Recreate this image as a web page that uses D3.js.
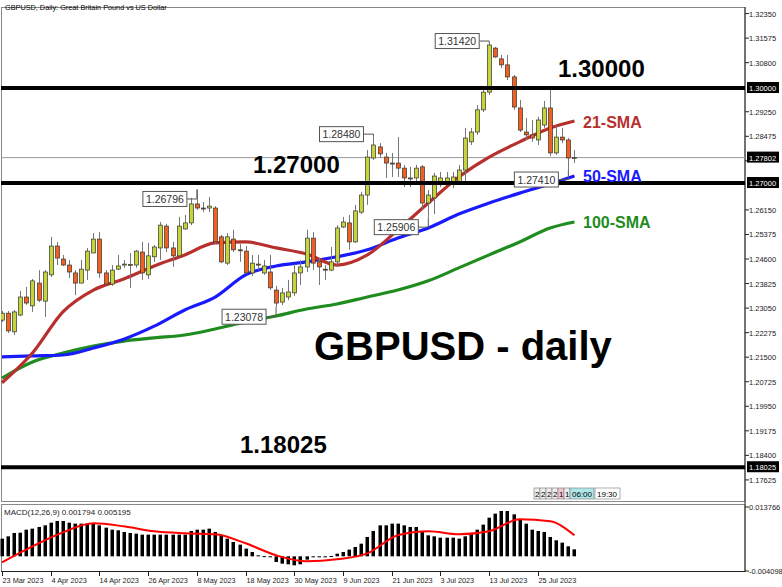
<!DOCTYPE html>
<html>
<head>
<meta charset="utf-8">
<script src="https://d3js.org/d3.v7.min.js"></script>
<style>
  body { margin: 0; background: #fff; }
  text { font-family: "Liberation Sans", Arial, sans-serif; }
</style>
</head>
<body>
<script>
const w = 782, h = 587;

// daily bars, 23 Mar 2023 .. 2 Aug 2023 (weekdays)
const open  = [1.2267,1.2289,1.2230,1.2283,1.2340,1.2312,1.2384,1.2327,1.2410,1.2501,1.2460,1.2441,1.2416,1.2384,1.2425,1.2479,1.2523,1.2416,1.2381,1.2428,
               1.2441,1.2441,1.2441,1.2482,1.2410,1.2467,1.2495,1.2564,1.2495,1.2470,1.2555,1.2574,1.2634,1.2621,1.2621,1.2621,1.2530,1.2447,1.2523,1.2489,
               1.2485,1.2416,1.2444,1.2416,1.2419,1.2362,1.2324,1.2340,1.2353,1.2416,1.2435,1.2526,1.2451,1.2428,1.2425,1.2451,1.2561,1.2574,1.2514,1.2608,
               1.2662,1.2779,1.2814,1.2782,1.2763,1.2763,1.2747,1.2716,1.2716,1.2751,1.2637,1.2653,1.2700,1.2703,1.2703,1.2703,1.2741,1.2830,1.2861,1.2931,
               1.2987,1.3126,1.3092,1.3073,1.3035,1.2937,1.2861,1.2852,1.2836,1.2883,1.2937,1.2795,1.2845,1.2836,1.2779];
const high  = [1.2296,1.2296,1.2299,1.2359,1.2372,1.2397,1.2425,1.2425,1.2530,1.2514,1.2473,1.2457,1.2425,1.2457,1.2495,1.2542,1.2545,1.2425,1.2441,1.2473,
               1.2457,1.2479,1.2489,1.2514,1.2511,1.2504,1.2577,1.2571,1.2514,1.2593,1.2599,1.2653,1.26796,1.2640,1.2656,1.2627,1.2536,1.2542,1.2552,1.2507,
               1.2501,1.2473,1.2473,1.2457,1.2473,1.2375,1.2369,1.2394,1.2444,1.2457,1.2552,1.2545,1.2463,1.2441,1.2498,1.2567,1.2593,1.2599,1.2631,1.2672,
               1.2804,1.2848,1.2826,1.2795,1.2795,1.2845,1.2757,1.2751,1.2757,1.2757,1.2678,1.2732,1.2735,1.2735,1.2735,1.2757,1.2874,1.2874,1.2946,1.3000,
               1.3142,1.3130,1.3104,1.3104,1.3041,1.2962,1.2905,1.2899,1.2909,1.2959,1.3000,1.2883,1.2874,1.2842,1.2804];
const low   = [1.2261,1.2226,1.2220,1.2280,1.2315,1.2293,1.2324,1.2277,1.2403,1.2441,1.2438,1.2400,1.2346,1.2384,1.2394,1.2479,1.2400,1.2378,1.2375,1.2425,
               1.2432,1.2369,1.2432,1.2394,1.2397,1.2451,1.2457,1.2482,1.2435,1.2467,1.2552,1.2567,1.2615,1.2608,1.2608,1.2507,1.2447,1.2441,1.2482,1.2451,
               1.2413,1.2406,1.2425,1.2410,1.2362,1.23078,1.2315,1.2330,1.2343,1.2378,1.2419,1.2425,1.2378,1.2394,1.2422,1.2438,1.2558,1.2489,1.2511,1.2602,
               1.2631,1.2773,1.2779,1.2716,1.2719,1.2719,1.2687,1.2687,1.2703,1.2615,1.25906,1.2602,1.2687,1.2694,1.2684,1.2694,1.2703,1.2820,1.2852,1.2924,
               1.2978,1.3095,1.3063,1.3025,1.2931,1.2861,1.2836,1.2830,1.2820,1.2874,1.2785,1.2789,1.2826,1.2741,1.2763];
const close = [1.2289,1.2233,1.2293,1.2340,1.2321,1.2391,1.2330,1.2419,1.2501,1.2463,1.2441,1.2419,1.2384,1.2428,1.2485,1.2523,1.2416,1.2381,1.2425,1.2438,
               1.2444,1.2443,1.2485,1.2416,1.2470,1.2498,1.2567,1.2495,1.2470,1.2564,1.2574,1.2634,1.2621,1.2619,1.2627,1.2514,1.2451,1.2530,1.2489,1.2487,
               1.2416,1.2447,1.2441,1.2438,1.2369,1.2321,1.2353,1.2356,1.2416,1.2435,1.2526,1.2447,1.2435,1.2425,1.2451,1.2558,1.2577,1.2514,1.2612,1.2662,
               1.2782,1.2820,1.2792,1.2763,1.2760,1.2747,1.2716,1.2714,1.2747,1.2637,1.2662,1.2722,1.2716,1.2716,1.2719,1.2741,1.2842,1.2861,1.2931,1.2987,
               1.3136,1.3098,1.3073,1.3035,1.2940,1.2867,1.2852,1.2842,1.2899,1.2937,1.2795,1.2845,1.2836,1.2779,1.27802];

// moving averages read every 5 bars
const maIdx  = [0,5,10,15,20,25,30,35,40,45,50,55,60,65,70,75,80,85,90,94];
const sma21  = [1.2069,1.2163,1.2293,1.2362,1.2397,1.2438,1.2473,1.2511,1.2514,1.2495,1.2476,1.2441,1.2473,1.2552,1.2637,1.2719,1.2782,1.2830,1.2874,1.2896];
const sma50  = [1.2151,1.2154,1.2157,1.2179,1.2207,1.2248,1.2299,1.2340,1.2410,1.2438,1.2451,1.2467,1.2489,1.2526,1.2558,1.2602,1.2637,1.2668,1.2697,1.2722];
const sma100 = [1.2084,1.2135,1.2163,1.2185,1.2201,1.2211,1.2220,1.2239,1.2261,1.2280,1.2302,1.2318,1.2340,1.2362,1.2391,1.2432,1.2473,1.2514,1.2558,1.2577];

// MACD histogram (x1e-3) and signal line (x1e-3)
const macdHist = [4.93,5.58,6.51,6.60,7.44,7.72,8.19,8.65,9.39,9.86,9.86,9.39,9.12,9.12,9.12,9.12,8.65,8.00,7.44,7.26,
                  6.79,6.51,6.33,6.05,6.05,6.05,6.05,6.05,6.05,6.05,6.05,7.07,7.44,7.44,7.72,6.79,5.86,4.93,4.00,3.26,
                  2.14,1.21,0.28,0.05,-0.2,-1.58,-2.05,-2.23,-2.51,-2.23,-0.93,-0.19,-0.1,-0.1,0.1,0.74,1.21,1.86,2.60,3.53,
                  5.40,7.07,8.65,8.65,9.12,9.12,8.65,8.19,8.19,7.07,5.86,5.58,5.21,5.21,5.21,4.93,5.58,6.51,7.44,8.84,
                  10.79,11.91,12.65,12.65,11.72,10.23,9.12,7.44,7.07,6.79,5.40,4.47,3.81,2.79,1.95];
const macdSignal = [-1.67,2.79,6.70,9.21,8.37,6.98,6.42,6.14,3.63,0.28,-1.40,-0.84,0.84,5.86,6.98,6.14,6.98,10.33,9.77,5.86];

const yTicks = [1.17625,1.18400,1.19175,1.19950,1.20725,1.21500,1.22275,1.23050,1.23825,1.24600,1.25375,1.26150,1.27700,1.28475,1.29250,1.30800,1.31575,1.32350];
const levels = [1.30000, 1.27000, 1.18025];
const lastPrice = 1.27802;
const dateLabels = ["23 Mar 2023","4 Apr 2023","14 Apr 2023","26 Apr 2023","8 May 2023","18 May 2023","30 May 2023","9 Jun 2023","21 Jun 2023","3 Jul 2023","13 Jul 2023","25 Jul 2023"];
const dateIdx = [0,8,16,24,32,40,48,56,64,72,80,88];
const marks = [
  {i: 80, p: 1.31420},
  {i: 61, p: 1.28480},
  {i: 32, p: 1.26796},
  {i: 45, p: 1.23078},
  {i: 70, p: 1.25906},
  {i: 93, p: 1.27410}
];

const axisX = 745, mainTop = 7, mainBot = 502, macdTop = 504, macdBot = 571;

let svg = d3.select("body").append("svg").attr("width", w).attr("height", h);

let x = d3.scaleLinear().domain([0, 94]).range([2, 2 + 94 * 6.09]);
let y = d3.scaleLinear().domain([1.17, 1.33]).range([499.7, -7]);
let ym = d3.scaleLinear().domain([-0.004098, 0.013766]).range([macdBot, 507]);

svg.append("clipPath").attr("id", "mc").append("rect")
  .attr("x", 1).attr("y", mainTop).attr("width", axisX - 1).attr("height", mainBot - mainTop);

// frames
svg.append("rect").attr("x", 1.5).attr("y", mainTop + 0.5).attr("width", axisX - 1.5).attr("height", mainBot - mainTop - 1)
  .attr("fill", "none").attr("stroke", "#888");
svg.append("rect").attr("x", 1.5).attr("y", macdTop + 0.5).attr("width", axisX - 1.5).attr("height", macdBot - macdTop)
  .attr("fill", "none").attr("stroke", "#888");
svg.append("line").attr("x1", axisX).attr("x2", axisX).attr("y1", mainTop).attr("y2", macdBot + 1).attr("stroke", "#222");
svg.append("line").attr("x1", 1).attr("x2", axisX).attr("y1", macdBot + 0.5).attr("y2", macdBot + 0.5).attr("stroke", "#222");

svg.append("text").attr("x", 5).attr("y", 10).attr("font-size", 7.3).text("GBPUSD, Daily:  Great Britain Pound vs US Dollar");

let g = svg.append("g").attr("clip-path", "url(#mc)");

// last price line
g.append("line").attr("x1", 0).attr("x2", axisX).attr("y1", y(lastPrice)).attr("y2", y(lastPrice))
  .attr("stroke", "#999").attr("stroke-width", 1);

// MAs
const maLine = arr => d3.line().x((d, k) => x(maIdx[k])).y(d => y(d)).curve(d3.curveMonotoneX)(arr);
[[sma100, "#1e8c1e"], [sma50, "#1a1aff"], [sma21, "#b7302d"]].forEach(([arr, col]) => {
  g.append("path").attr("d", maLine(arr)).attr("fill", "none").attr("stroke", col).attr("stroke-width", 3.2);
});

// candles
let idx = d3.range(open.length);
g.selectAll(".wick").data(idx).join("line")
  .attr("x1", i => Math.round(x(i)) + 0.5).attr("x2", i => Math.round(x(i)) + 0.5)
  .attr("y1", i => y(high[i])).attr("y2", i => y(low[i]))
  .attr("stroke", "#777").attr("stroke-width", 1);
g.selectAll(".body").data(idx).join("rect")
  .attr("x", i => Math.round(x(i)) - 1.5)
  .attr("y", i => y(Math.max(open[i], close[i])))
  .attr("width", 4)
  .attr("height", i => Math.max(1, Math.abs(y(open[i]) - y(close[i]))))
  .attr("fill", i => close[i] >= open[i] ? "#c6d43a" : "#f1601f")
  .attr("stroke", "#333").attr("stroke-width", 0.7);

// horizontal levels
levels.forEach(p => {
  g.append("line").attr("x1", 0).attr("x2", axisX).attr("y1", y(p)).attr("y2", y(p))
    .attr("stroke", "#000").attr("stroke-width", 4);
});

// high/low markers
marks.forEach(m => {
  const cx = x(m.i), cy = y(m.p);
  const bw = 44, bh = 15;
  const bx = cx - 10 - bw, by = m.p > 1.27 && m.i !== 93 ? cy - bh / 2 - 2 : cy + 2;
  g.append("polyline").attr("points", `${bx + bw},${by + bh / 2} ${cx},${by + bh / 2} ${cx},${cy}`)
    .attr("fill", "none").attr("stroke", "#555").attr("stroke-width", 1);
  g.append("rect").attr("x", bx).attr("y", by).attr("width", bw).attr("height", bh)
    .attr("fill", "#fff").attr("stroke", "#555");
  g.append("text").attr("x", bx + bw / 2).attr("y", by + 11.5).attr("text-anchor", "middle")
    .attr("font-size", 10.5).attr("fill", "#333").text(m.p.toFixed(5));
});

// big labels
const big = (t, tx, ty, size, col) => svg.append("text").attr("x", tx).attr("y", ty)
  .attr("font-size", size).attr("font-weight", "bold").attr("fill", col || "#000").text(t);
big("1.30000", 558, 77, 24);
big("1.27000", 253, 173, 24);
big("1.18025", 240, 453, 24);
big("GBPUSD - daily", 314, 360, 40);
big("21-SMA", 583, 128, 16, "#b7302d");
big("50-SMA", 583, 182, 16, "#1a1aff");
big("100-SMA", 583, 228, 16, "#1e8c1e");

// price axis
yTicks.forEach(p => {
  svg.append("line").attr("x1", axisX).attr("x2", axisX + 4).attr("y1", y(p)).attr("y2", y(p)).attr("stroke", "#222");
  if (Math.abs(p - lastPrice) > 0.002)
    svg.append("text").attr("x", axisX + 4).attr("y", y(p) + 3).attr("font-size", 7.5).attr("fill", "#222").text(p.toFixed(5));
});
levels.concat([lastPrice]).forEach(p => {
  svg.append("rect").attr("x", axisX + 2).attr("y", y(p) - 6).attr("width", 32).attr("height", 11).attr("fill", "#000");
  svg.append("text").attr("x", axisX + 4).attr("y", y(p) + 3).attr("font-size", 7.5).attr("fill", "#fff").text(p.toFixed(5));
});

// time widget
const wid = ["2", "2", "2", "2", "1", "1"];
wid.forEach((t, k) => {
  svg.append("rect").attr("x", 534 + k * 6).attr("y", 488).attr("width", 6).attr("height", 11)
    .attr("fill", k === 4 ? "#f4c6cc" : "#eee").attr("stroke", "#777").attr("stroke-width", 0.6);
  svg.append("text").attr("x", 535 + k * 6).attr("y", 497).attr("font-size", 8).text(t);
});
svg.append("rect").attr("x", 570).attr("y", 488).attr("width", 24).attr("height", 11).attr("fill", "#aee6ea").attr("stroke", "#777").attr("stroke-width", 0.6);
svg.append("text").attr("x", 572).attr("y", 497).attr("font-size", 8).text("06:00");
svg.append("rect").attr("x", 595).attr("y", 488).attr("width", 25).attr("height", 11).attr("fill", "#fff").attr("stroke", "#777").attr("stroke-width", 0.6);
svg.append("text").attr("x", 597).attr("y", 497).attr("font-size", 8).text("19:30");

// MACD panel
svg.selectAll(".hist").data(idx).join("rect")
  .attr("x", i => Math.round(x(i)) - 1.5)
  .attr("y", i => ym(Math.max(0, macdHist[i] / 1000)))
  .attr("width", 3.5)
  .attr("height", i => Math.max(1, Math.abs(ym(macdHist[i] / 1000) - ym(0))))
  .attr("fill", "#000");
svg.append("path")
  .attr("d", d3.line().x((d, k) => x(maIdx[k])).y(d => ym(d / 1000)).curve(d3.curveMonotoneX)(macdSignal))
  .attr("fill", "none").attr("stroke", "#ff0000").attr("stroke-width", 2);
svg.append("text").attr("x", 4).attr("y", 515).attr("font-size", 8).attr("fill", "#222").text("MACD(12,26,9) 0.001794 0.005195");
[0.013766, -0.004098].forEach(v => {
  svg.append("line").attr("x1", axisX).attr("x2", axisX + 4).attr("y1", ym(v)).attr("y2", ym(v)).attr("stroke", "#222");
  svg.append("text").attr("x", axisX + 4).attr("y", ym(v) + 3).attr("font-size", 7.5).attr("fill", "#222").text(v.toFixed(6));
});

// date axis
dateIdx.forEach((i, k) => {
  const tx = Math.round(x(i)) + 0.5;
  svg.append("line").attr("x1", tx).attr("x2", tx).attr("y1", macdBot).attr("y2", macdBot + 5).attr("stroke", "#222");
  svg.append("text").attr("x", tx).attr("y", macdBot + 12).attr("font-size", 7.3).attr("fill", "#222").text(dateLabels[k]);
});
</script>
</body>
</html>
